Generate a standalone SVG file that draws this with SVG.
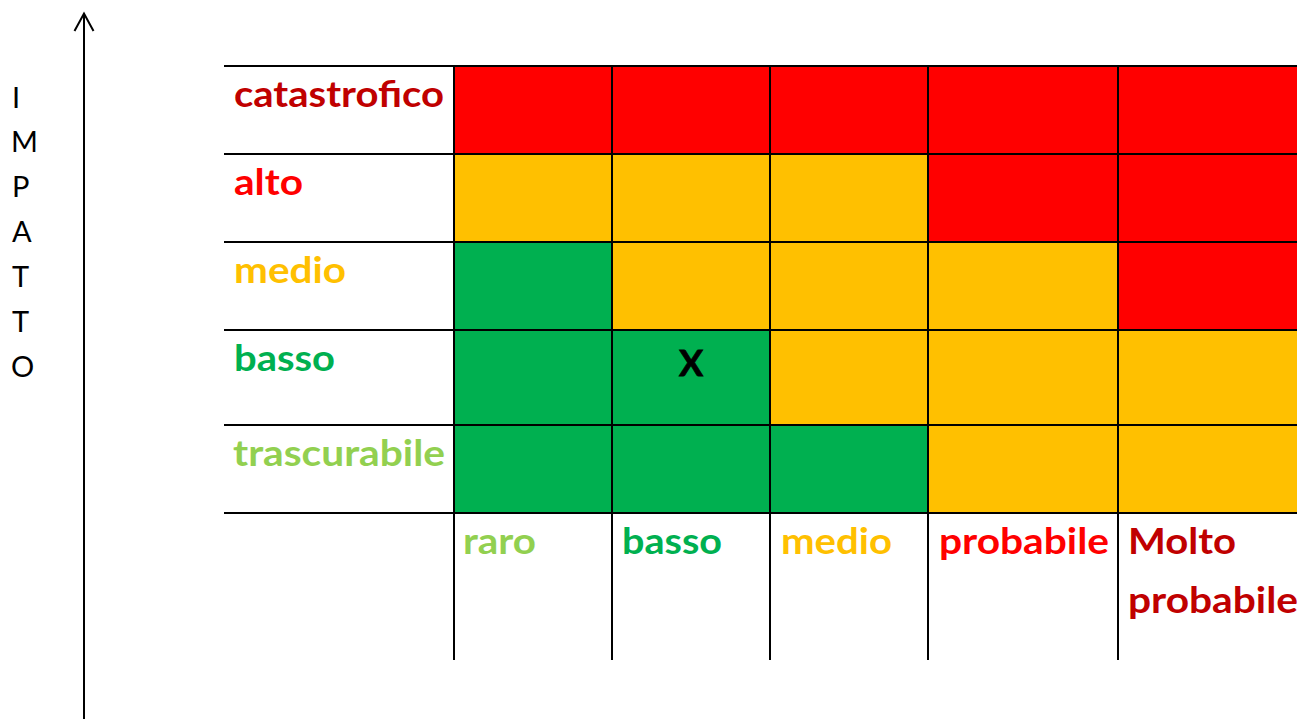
<svg xmlns="http://www.w3.org/2000/svg" width="1297" height="719" viewBox="0 0 1297 719">
<style>
.lbl{font-family:Lato,"Open Sans","Liberation Sans",sans-serif;font-weight:bold;font-size:36px}
.ax{font-family:Lato,"Open Sans","Liberation Sans",sans-serif;font-size:29px;fill:#000}
.grid{stroke:#000;stroke-width:2;fill:none}
.r{fill:#FF0000}.y{fill:#FFC000}.g{fill:#00B050}
</style>
<rect width="1297" height="719" fill="#fff"/>
<g id="axis">
<line x1="84" y1="14" x2="84" y2="719" stroke="#000" stroke-width="2"/>
<polyline points="74.5,31 84,13.5 93.5,31" fill="none" stroke="#000" stroke-width="2"/>
<text class="ax" x="12" y="108">I</text>
<text class="ax" x="11" y="152">M</text>
<text class="ax" x="12" y="197">P</text>
<text class="ax" x="12" y="242">A</text>
<text class="ax" x="12" y="287">T</text>
<text class="ax" x="12" y="332">T</text>
<text class="ax" x="11" y="377">O</text>
</g>
<g id="cells">
<rect class="r" x="454" y="66" width="843" height="88"/>
<rect class="y" x="454" y="154" width="474" height="88"/>
<rect class="r" x="928" y="154" width="369" height="88"/>
<rect class="g" x="454" y="242" width="158" height="88"/>
<rect class="y" x="612" y="242" width="506" height="88"/>
<rect class="r" x="1118" y="242" width="179" height="88"/>
<rect class="g" x="454" y="330" width="316" height="95"/>
<rect class="y" x="770" y="330" width="527" height="95"/>
<rect class="g" x="454" y="425" width="474" height="88"/>
<rect class="y" x="928" y="425" width="369" height="88"/>
</g>
<g id="grid" class="grid">
<line x1="224" y1="66" x2="1297" y2="66"/>
<line x1="224" y1="154" x2="1297" y2="154"/>
<line x1="224" y1="242" x2="1297" y2="242"/>
<line x1="224" y1="330" x2="1297" y2="330"/>
<line x1="224" y1="425" x2="1297" y2="425"/>
<line x1="224" y1="513" x2="1297" y2="513"/>
<line x1="454" y1="66" x2="454" y2="660"/>
<line x1="612" y1="66" x2="612" y2="660"/>
<line x1="770" y1="66" x2="770" y2="660"/>
<line x1="928" y1="66" x2="928" y2="660"/>
<line x1="1118" y1="66" x2="1118" y2="660"/>
</g>
<g id="row-labels">
<text class="lbl" x="234" y="107" fill="#C00000" textLength="210" lengthAdjust="spacingAndGlyphs">catastrofico</text>
<text class="lbl" x="234" y="195" fill="#FF0000" textLength="69" lengthAdjust="spacingAndGlyphs">alto</text>
<text class="lbl" x="234" y="283" fill="#FFC000" textLength="112" lengthAdjust="spacingAndGlyphs">medio</text>
<text class="lbl" x="234" y="371" fill="#00B050" textLength="101" lengthAdjust="spacingAndGlyphs">basso</text>
<text class="lbl" x="233" y="466" fill="#92D050" textLength="212" lengthAdjust="spacingAndGlyphs">trascurabile</text>
</g>
<g id="col-labels">
<text class="lbl" x="463" y="554" fill="#92D050" textLength="73" lengthAdjust="spacingAndGlyphs">raro</text>
<text class="lbl" x="622" y="554" fill="#00B050" textLength="100" lengthAdjust="spacingAndGlyphs">basso</text>
<text class="lbl" x="781" y="554" fill="#FFC000" textLength="111" lengthAdjust="spacingAndGlyphs">medio</text>
<text class="lbl" x="939" y="554" fill="#FF0000" textLength="170" lengthAdjust="spacingAndGlyphs">probabile</text>
<text class="lbl" x="1128" y="554" fill="#C00000" textLength="108" lengthAdjust="spacingAndGlyphs">Molto</text>
<text class="lbl" x="1128" y="613" fill="#C00000" textLength="170" lengthAdjust="spacingAndGlyphs">probabile</text>
</g>
<g id="mark">
<text class="lbl" x="691" y="376" text-anchor="middle" fill="#000" font-size="41" stroke="#000" stroke-width="0.8">X</text>
</g>
</svg>
